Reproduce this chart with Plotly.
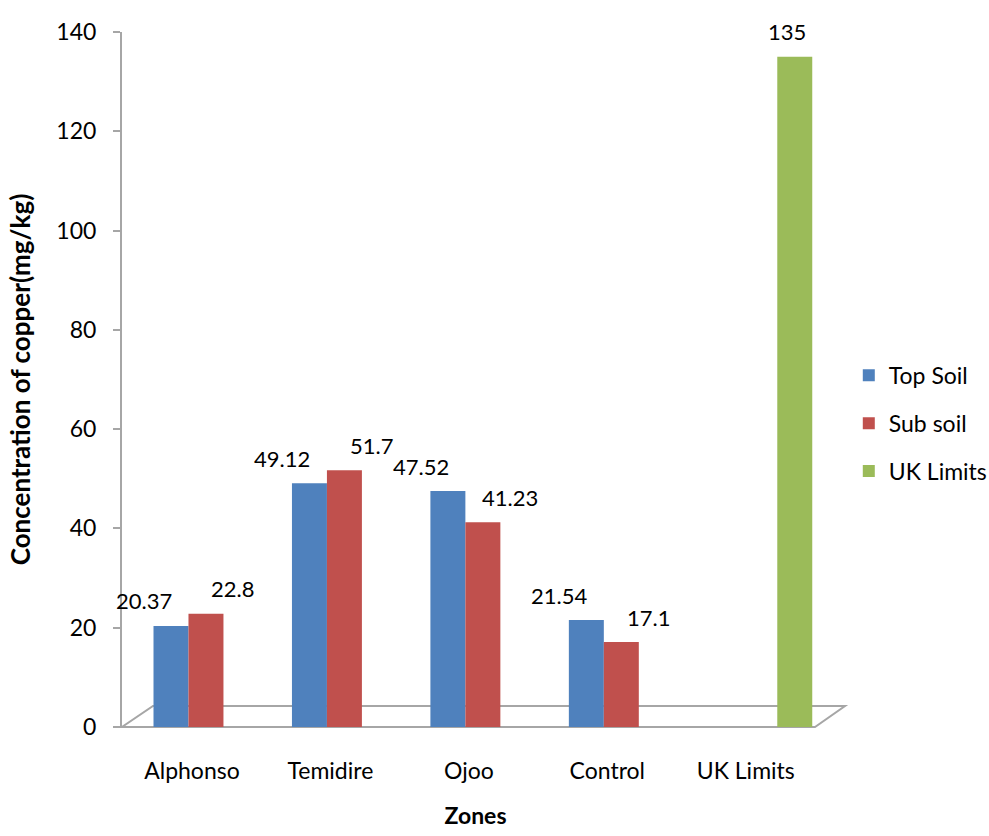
import plotly.graph_objects as go

zones = ["Alphonso", "Temidire", "Ojoo", "Control", "UK Limits"]
top_soil = [20.37, 49.12, 47.52, 21.54, None]
sub_soil = [22.8, 51.7, 41.23, 17.1, None]
uk_limits = [None, None, None, None, 135]
series_names = ["Top Soil", "Sub soil", "UK Limits"]
colors = ["#4F81BD", "#C0504D", "#9BBB59"]
y_ticks = [0, 20, 40, 60, 80, 100, 120, 140]

FONT = "Lato"
W, H = 989, 836
ML, MR, MT, MB = 122, 160, 32, 109
plot_w = W - ML - MR
plot_h = H - MT - MB

fig = go.Figure()
series = [top_soil, sub_soil, uk_limits]
for i, (name, vals, col) in enumerate(zip(series_names, series, colors)):
    fig.add_trace(go.Bar(
        x=zones, y=vals, name=name, marker=dict(color=col, line=dict(width=0)),
        legendgroup=name, hoverinfo="skip",
    ))

# data labels
bar_px = plot_w / 5.1065 * (1 - 0.242) / 3
label_shift = {0: -bar_px - 27, 1: 27, 2: 27}
for i, vals in enumerate(series):
    for z, v in zip(zones, vals):
        if v is None:
            continue
        fig.add_annotation(
            x=z, y=v, text=f"{v:g}", showarrow=False, xref="x", yref="y",
            xshift=label_shift[i], yshift=25, yanchor="middle",
            font=dict(family=FONT, size=22, color="#000000"),
        )

# 3D-like floor
def px2paper(px, py):
    return (px - ML) / plot_w, (H - MB - py) / plot_h

pts = [(122, 727), (815, 727), (845, 706), (153, 706)]
pp = [px2paper(*p) for p in pts]
path = "M " + " L ".join(f"{x},{y}" for x, y in pp) + " Z"
fig.add_shape(type="path", path=path, xref="paper", yref="paper",
              line=dict(color="#A6A6A6", width=2), fillcolor="rgba(0,0,0,0)",
              layer="below")

fig.update_layout(
    width=W, height=H,
    margin=dict(l=ML, r=MR, t=MT, b=MB, autoexpand=False),
    paper_bgcolor="white", plot_bgcolor="white",
    barmode="group", bargap=0.242, bargroupgap=0,
    font=dict(family=FONT, size=23, color="#000000"),
    showlegend=True,
    legend=dict(x=1.028, xanchor="left", y=0.437, yanchor="middle",
                font=dict(family=FONT, size=23), tracegroupgap=15,
                bgcolor="rgba(0,0,0,0)", borderwidth=0),
    xaxis=dict(
        range=[-0.6065, 4.5], showline=False, showgrid=False, zeroline=False,
        ticks="", tickfont=dict(family=FONT, size=23), ticklabelshift=-14,
        ticklabelstandoff=28, automargin=False,
        title=dict(text="<b>Zones</b>", font=dict(family=FONT, size=23), standoff=24),
    ),
    yaxis=dict(
        range=[0, 140], tickvals=y_ticks, showline=True, linecolor="#A6A6A6",
        linewidth=2, ticks="outside", ticklen=7, tickcolor="#A6A6A6", tickwidth=2,
        showgrid=False, zeroline=False, ticklabelstandoff=12, automargin=False,
        tickfont=dict(family=FONT, size=23),
        title=dict(text="<b>Concentration of copper(mg/kg)</b>",
                   font=dict(family=FONT, size=26), standoff=18),
    ),
)

fig.write_html("out.html", config={"displayModeBar": False},
               post_script="document.body.style.margin='0';document.body.style.padding='0';")
